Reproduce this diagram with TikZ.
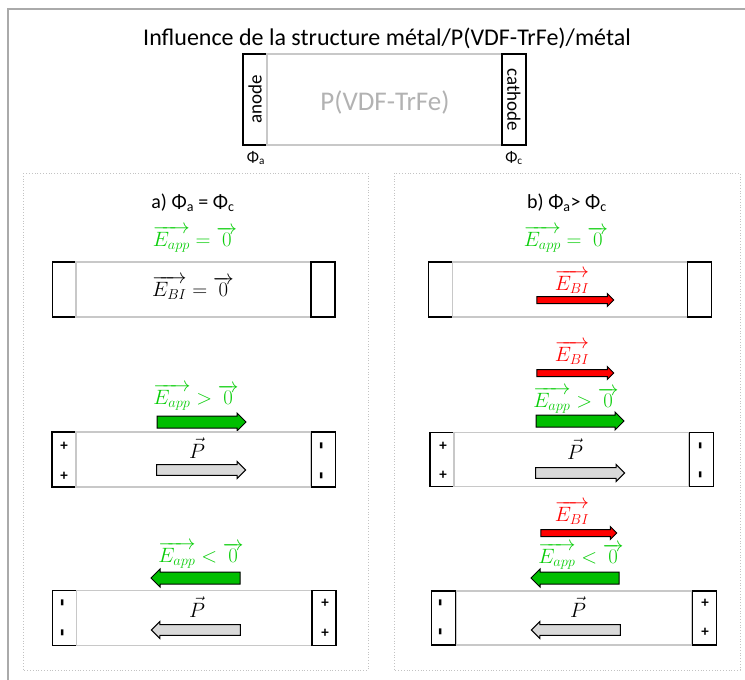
\documentclass[tikz,border=0pt]{standalone}
\usepackage[no-math]{fontspec}
\setmainfont{Carlito}
\usetikzlibrary{shapes.arrows}

\definecolor{appgreen}{RGB}{10,205,10}
\definecolor{arrowgreen}{RGB}{0,190,0}
\definecolor{bired}{RGB}{255,0,0}
\definecolor{polygray}{RGB}{200,200,200}
\definecolor{framegray}{RGB}{170,170,170}

\tikzset{
  electrode/.style={draw=black,line width=1.4pt,minimum width=24pt,inner sep=0pt},
  polymer/.style={draw=polygray,line width=1.4pt,minimum width=235pt,inner sep=0pt},
  panel/.style={draw=framegray!70,dotted,line width=0.8pt},
  charge/.style={font=\fontsize{15}{15}\selectfont\bfseries,inner sep=0pt},
  minus/.style={charge,rotate=90,font=\fontsize{24}{24}\selectfont\bfseries},
  blockarrow/.style={single arrow,draw=black,line width=1pt,inner xsep=0pt,
    inner ysep=5.5pt,minimum width=18pt,single arrow head extend=3pt},
  birarrow/.style={blockarrow,fill=bired,inner ysep=3pt,minimum width=12pt},
  apparrow/.style={blockarrow,fill=arrowgreen},
  polarrow/.style={blockarrow,fill=black!15,inner ysep=4.5pt,minimum width=17pt},
  mathlbl/.style={font=\fontsize{20}{20}\selectfont,inner sep=0pt}
}

\begin{document}
\begin{tikzpicture}[x=1pt,y=-1pt]
    \useasboundingbox (0,0) rectangle (745,680);

    % Outer frame
    \draw[framegray,line width=1.2pt] (8,680) -- (8,9) -- (745,9);

    % Title and structure
    \node[font=\fontsize{24}{24}\selectfont] (title) at (387,38)
        {Influence de la structure métal/P(VDF-TrFe)/métal};
    \node[electrode,minimum height=91pt] (anode) at (255,99.5) {};
    \node[polymer,minimum height=91pt] (pvdf) at (384.5,99.5) {};
    \node[electrode,minimum height=91pt] (cathode) at (514,99.5) {};
    \node[rotate=90,font=\fontsize{19}{19}\selectfont] (anodetxt) at (anode) {anode};
    \node[rotate=-90,font=\fontsize{19}{19}\selectfont] (cathodetxt) at (cathode) {cathode};
    \node[text=black!30,font=\fontsize{27}{27}\selectfont] (pvdftxt) at (385,102) {P(VDF-TrFe)};
    \node[font=\fontsize{16}{16}\selectfont] (phia) at (256,158) {Φ\textsubscript{a}};
    \node[font=\fontsize{16}{16}\selectfont] (phic) at (514,158) {Φ\textsubscript{c}};

    % Panels
    \draw[panel] (23,173) rectangle (368,670);
    \draw[panel] (394,173) rectangle (740,670);
    \node[font=\fontsize{20}{20}\selectfont] (titlea) at (193,203) {a) Φ\textsubscript{a} = Φ\textsubscript{c}};
    \node[font=\fontsize{20}{20}\selectfont] (titleb) at (567,203) {b) Φ\textsubscript{a}> Φ\textsubscript{c}};

    % a) row 1 : no field
    \node[mathlbl,text=appgreen] (a1app) at (195,239) {$\overrightarrow{E_{app}}\;{=}\;\overrightarrow{0}$};
    \node[electrode,minimum height=55pt] (a1an) at (64.5,289.5) {};
    \node[polymer,minimum height=55pt] (a1pol) at (193.5,289.5) {};
    \node[electrode,minimum height=55pt] (a1ca) at (323,289.5) {};
    \node[mathlbl] (a1bi) at (193,288) {$\overrightarrow{E_{BI}} = \overrightarrow{0}$};

    % a) row 2 : positive field
    \node[mathlbl,text=appgreen] (a2app) at (196,397) {$\overrightarrow{E_{app}}\;{>}\;\overrightarrow{0}$};
    \node[apparrow,minimum height=89pt] (a2fld) at (198.5,422) {};
    \node[electrode,minimum height=55pt] (a2an) at (64,459.5) {};
    \node[polymer,minimum height=55pt] (a2pol) at (193.5,459.5) {};
    \node[electrode,minimum height=55pt] (a2ca) at (323.5,459.5) {};
    \node[charge] (a2p1) at (64,446) {+};
    \node[charge] (a2p2) at (64,476) {+};
    \node[minus] (a2m1) at (324,446) {-};
    \node[minus] (a2m2) at (324,476) {-};
    \node[mathlbl] (a2plab) at (197,448) {$\vec{P}$};
    \node[polarrow,minimum height=89pt] (a2par) at (198.5,470) {};

    % a) row 3 : negative field
    \node[mathlbl,text=appgreen] (a3app) at (201,555) {$\overrightarrow{E_{app}}\;{<}\;\overrightarrow{0}$};
    \node[apparrow,shape border rotate=180,minimum height=89pt] (a3fld) at (198.5,578) {};
    \node[electrode,minimum height=55pt] (a3an) at (64.5,618) {};
    \node[polymer,minimum height=55pt] (a3pol) at (194,618) {};
    \node[electrode,minimum height=55pt] (a3ca) at (324,618) {};
    \node[minus] (a3m1) at (65,603) {-};
    \node[minus] (a3m2) at (65,633) {-};
    \node[charge] (a3p1) at (325,603) {+};
    \node[charge] (a3p2) at (325,633) {+};
    \node[mathlbl] (a3plab) at (197,607) {$\vec{P}$};
    \node[polarrow,shape border rotate=180,minimum height=89pt] (a3par) at (198.5,630) {};

    % b) row 1 : no field
    \node[mathlbl,text=appgreen] (b1app) at (566,239) {$\overrightarrow{E_{app}}\;{=}\;\overrightarrow{0}$};
    \node[electrode,minimum height=55pt] (b1an) at (440.5,289.5) {};
    \node[polymer,minimum height=55pt] (b1pol) at (570,289.5) {};
    \node[electrode,minimum height=55pt] (b1ca) at (699.5,289.5) {};
    \node[mathlbl,text=bired] (b1bi) at (572,282) {$\overrightarrow{E_{BI}}$};
    \node[birarrow,minimum height=77pt] (b1fld) at (573.5,300) {};

    % b) row 2 : positive field
    \node[mathlbl,text=bired] (b2bi) at (572,353) {$\overrightarrow{E_{BI}}$};
    \node[birarrow,minimum height=77pt] (b2bif) at (573.5,373) {};
    \node[mathlbl,text=appgreen] (b2app) at (576,400) {$\overrightarrow{E_{app}}\;{>}\;\overrightarrow{0}$};
    \node[apparrow,minimum height=88pt] (b2fld) at (577,421) {};
    \node[electrode,minimum height=54pt] (b2an) at (442,459.5) {};
    \node[polymer,minimum height=54pt] (b2pol) at (571.5,459.5) {};
    \node[electrode,minimum height=54pt] (b2ca) at (701.5,459.5) {};
    \node[charge] (b2p1) at (443,446) {+};
    \node[charge] (b2p2) at (443,475) {+};
    \node[minus] (b2m1) at (703,446) {-};
    \node[minus] (b2m2) at (703,475) {-};
    \node[mathlbl] (b2plab) at (575,449) {$\vec{P}$};
    \node[polarrow,minimum height=89pt] (b2par) at (577.5,473) {};

    % b) row 3 : negative field
    \node[mathlbl,text=bired] (b3bi) at (572,513) {$\overrightarrow{E_{BI}}$};
    \node[birarrow,minimum height=76pt] (b3bif) at (577,533) {};
    \node[mathlbl,text=appgreen] (b3app) at (581,556) {$\overrightarrow{E_{app}}\;{<}\;\overrightarrow{0}$};
    \node[apparrow,shape border rotate=180,minimum height=88pt] (b3fld) at (578,578) {};
    \node[electrode,minimum height=54pt] (b3an) at (443.5,618) {};
    \node[polymer,minimum height=54pt] (b3pol) at (574,618) {};
    \node[electrode,minimum height=54pt] (b3ca) at (704.5,618) {};
    \node[minus] (b3m1) at (443,603) {-};
    \node[minus] (b3m2) at (443,632) {-};
    \node[charge] (b3p1) at (705,603) {+};
    \node[charge] (b3p2) at (705,632) {+};
    \node[mathlbl] (b3plab) at (578,607) {$\vec{P}$};
    \node[polarrow,shape border rotate=180,minimum height=89pt] (b3par) at (578.5,630) {};
\end{tikzpicture}
\end{document}
